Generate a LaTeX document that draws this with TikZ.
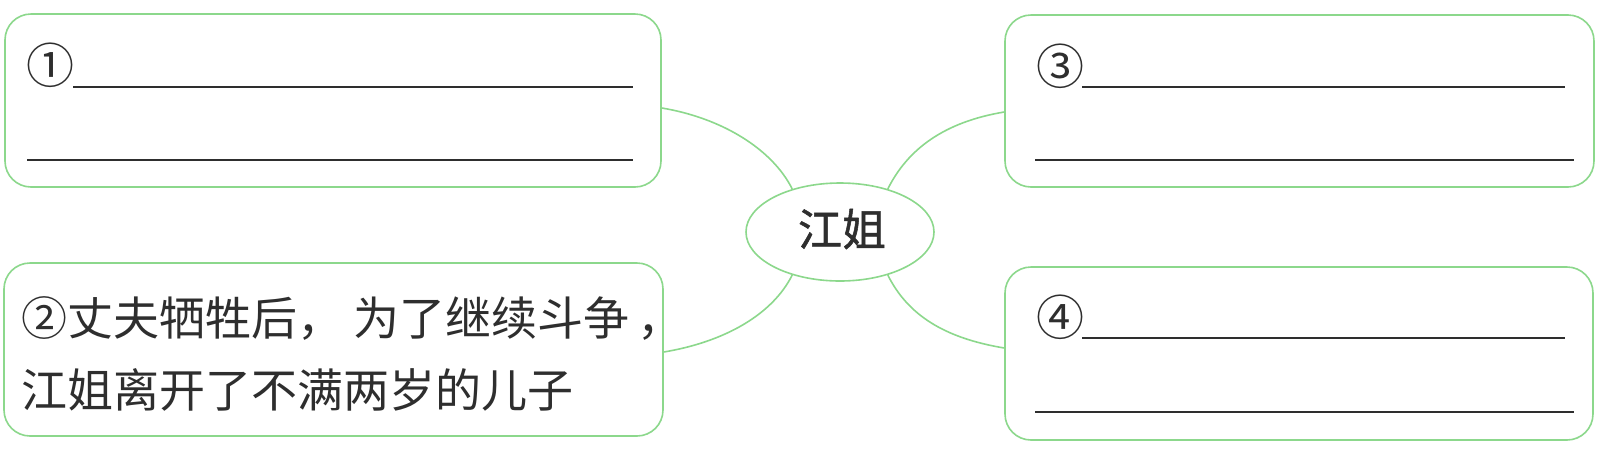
\documentclass[tikz,border=0pt]{standalone}
\usepackage{fontspec}
\usetikzlibrary{shapes.geometric}
\newfontfamily\cjk{Noto Sans CJK SC}
\newfontfamily\cjkb[FakeBold=1.2]{Noto Sans CJK SC}
\definecolor{lg}{HTML}{8CD88C}
\definecolor{ink}{HTML}{2E2E2E}
\begin{document}
\begin{tikzpicture}[x=1pt,y=-1pt,
  box/.style={draw=lg,line width=1.6pt,rounded corners=26pt,inner sep=0pt},
  conn/.style={draw=lg,line width=1.6pt},
  rule/.style={draw=ink,line width=2.6pt},
  num/.style={font=\cjk\fontsize{48}{48}\selectfont,inner sep=0pt,text=ink},
  txt/.style={font=\cjk\fontsize{46}{72}\selectfont,inner sep=0pt,text=ink,align=left,anchor=west}]
\useasboundingbox (0,0) rectangle (1612,451);
\fill[white] (0,0) rectangle (1612,451);
% boxes
\node[box,minimum width=656pt,minimum height=173pt] (b1) at (333,100.5) {};
\node[box,minimum width=659pt,minimum height=173pt] (b2) at (333.5,349.5) {};
\node[box,minimum width=589pt,minimum height=172pt] (b3) at (1299.5,101) {};
\node[box,minimum width=588pt,minimum height=173pt] (b4) at (1299,353.5) {};
% centre
\node[draw=lg,line width=1.6pt,ellipse,minimum width=188pt,minimum height=98pt,inner sep=0pt] (e) at (840,232) {};
\node[font=\cjkb\fontsize{44}{44}\selectfont,text=ink,inner sep=0pt] (et) at (842,229) {江姐};
% connectors
\draw[conn] ([yshift=-7.5pt]b1.east) .. controls +(60,10) and +(-20,-40) .. (e.138);
\draw[conn] ([yshift=-2.5pt]b2.east) .. controls +(60,-10) and +(-20,40) .. (e.222);
\draw[conn] (e.42) .. controls +(20,-40) and +(-60,10) .. ([yshift=-11pt]b3.west);
\draw[conn] (e.318) .. controls +(20,40) and +(-60,-10) .. ([yshift=5.5pt]b4.west);
% box 1
\node[num] (n1) at (50,65) {①};
\draw[rule] (73,87) -- (633,87);
\draw[rule] (27,160) -- (633,160);
% box 2
\node[txt] (t2) at (21,354) {②丈夫牺牲后，\hspace{10pt}为了继续斗争\hspace{8pt}，\\江姐离开了不满两岁的儿子};
% box 3
\node[num] (n3) at (1060,66) {③};
\draw[rule] (1082,87) -- (1565,87);
\draw[rule] (1035,160) -- (1574,160);
% box 4
\node[num] (n4) at (1060,317) {④};
\draw[rule] (1082,338) -- (1565,338);
\draw[rule] (1035,412) -- (1574,412);
\end{tikzpicture}
\end{document}
